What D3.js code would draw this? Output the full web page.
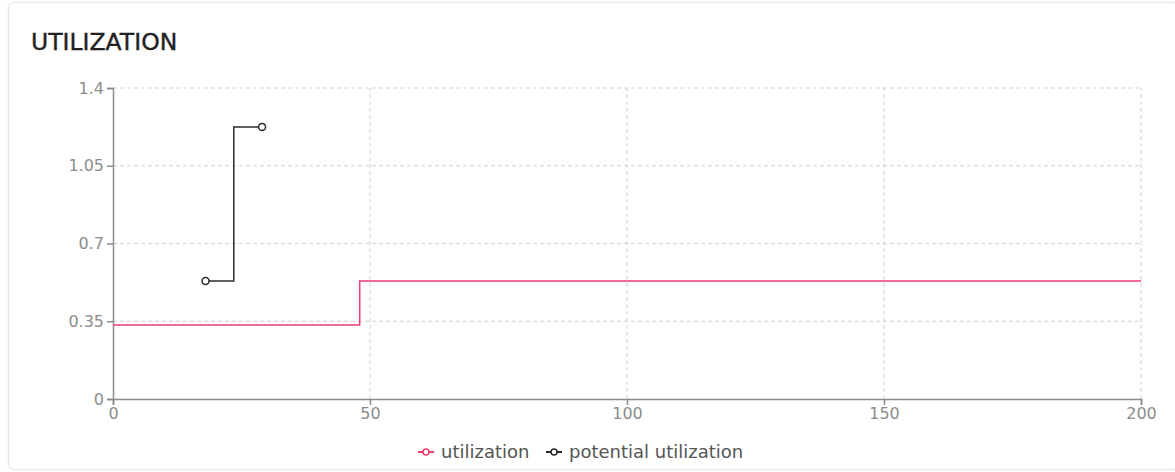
<!DOCTYPE html>
<html>
<head>
<meta charset="utf-8">
<script src="https://cdn.jsdelivr.net/npm/d3@7"></script>
<style>
  body { margin: 0; background: #fff; font-family: "DejaVu Sans", sans-serif; }
  .card { position: absolute; left: 8px; top: 2px; width: 1170px; height: 466px;
          border: 1px solid #e6e6e6; border-radius: 6px; box-shadow: 0 0 3px rgba(0,0,0,0.06); }
  .grid line { stroke: #d0d0d0; stroke-dasharray: 4,3; }
  .axis path, .axis line { stroke: #8a8a8a; stroke-width: 1.5; }
  .axis text { fill: #8c8c8c; font-size: 16px; font-family: "DejaVu Sans", sans-serif; }
</style>
</head>
<body>
<div class="card"></div>
<svg id="chart" width="1175" height="472" style="position:absolute;left:0;top:0"></svg>
<script>
// data
const utilX = [0, 48, 200];
const utilY = [0.333, 0.531, 0.531];
const potX = [18, 29];
const potY = [0.531, 1.225];
const yTicks = [0, 0.35, 0.7, 1.05, 1.4];
const xTicks = [0, 50, 100, 150, 200];
const seriesNames = ["utilization", "potential utilization"];
const seriesColors = ["#ec3d6f", "#2b2b2b"];

const svg = d3.select("#chart");
const margin = {left: 113, right: 34, top: 88, bottom: 73};
const W = 1175, H = 472;

let x = d3.scaleLinear().domain([0, 200]).range([margin.left, W - margin.right]);
let y = d3.scaleLinear().domain([0, 1.4]).range([H - margin.bottom, margin.top]);

svg.append("text")
  .attr("x", 31).attr("y", 50)
  .attr("font-size", 23.5)
  .attr("fill", "#222")
  .attr("stroke", "#222").attr("stroke-width", 0.4)
  .text("UTILIZATION");

// grid
svg.append("g").attr("class", "grid")
  .selectAll("line").data(yTicks.slice(1)).enter()
  .append("line")
  .attr("x1", x(0)).attr("x2", x(200))
  .attr("y1", d => y(d)).attr("y2", d => y(d));
svg.append("g").attr("class", "grid")
  .selectAll("line").data(xTicks.slice(1)).enter()
  .append("line")
  .attr("x1", d => x(d)).attr("x2", d => x(d))
  .attr("y1", y(0)).attr("y2", y(1.4));

// axes
svg.append("g").attr("class", "axis")
  .attr("transform", `translate(0,${y(0)})`)
  .call(d3.axisBottom(x).tickValues(xTicks).tickSize(6).tickSizeOuter(6).tickPadding(3));
svg.append("g").attr("class", "axis")
  .attr("transform", `translate(${x(0)},0)`)
  .call(d3.axisLeft(y).tickValues(yTicks).tickFormat(d => d).tickSize(6).tickSizeOuter(6).tickPadding(3));

// lines
let utilLine = d3.line().x(d => x(d[0])).y(d => y(d[1])).curve(d3.curveStepAfter);
svg.append("path")
  .datum(utilX.map((v, i) => [v, utilY[i]]))
  .attr("d", utilLine)
  .attr("fill", "none")
  .attr("stroke", seriesColors[0])
  .attr("stroke-width", 1.5);

let potData = potX.map((v, i) => [v, potY[i]]);
let potLine = d3.line().x(d => x(d[0])).y(d => y(d[1])).curve(d3.curveStep);
svg.append("path")
  .datum(potData)
  .attr("d", potLine)
  .attr("fill", "none")
  .attr("stroke", seriesColors[1])
  .attr("stroke-width", 1.5);
svg.selectAll(".pot-pt").data(potData).enter()
  .append("circle")
  .attr("cx", d => x(d[0])).attr("cy", d => y(d[1]))
  .attr("r", 3.5)
  .attr("fill", "#fff")
  .attr("stroke", seriesColors[1])
  .attr("stroke-width", 1.5);

// legend
let legend = svg.append("g").attr("transform", "translate(418,452)");
let offsets = [0, 128];
seriesNames.forEach(function(name, i) {
  let g = legend.append("g").attr("transform", `translate(${offsets[i]},0)`);
  g.append("line").attr("x1", 0).attr("x2", 16).attr("y1", 0).attr("y2", 0)
    .attr("stroke", seriesColors[i]).attr("stroke-width", 2);
  g.append("circle").attr("cx", 8).attr("cy", 0).attr("r", 3)
    .attr("fill", "#fff").attr("stroke", seriesColors[i]).attr("stroke-width", 1.5);
  g.append("text").attr("x", 23).attr("y", 6)
    .attr("font-size", 18).attr("fill", "#555")
    .text(name);
});
</script>
</body>
</html>
